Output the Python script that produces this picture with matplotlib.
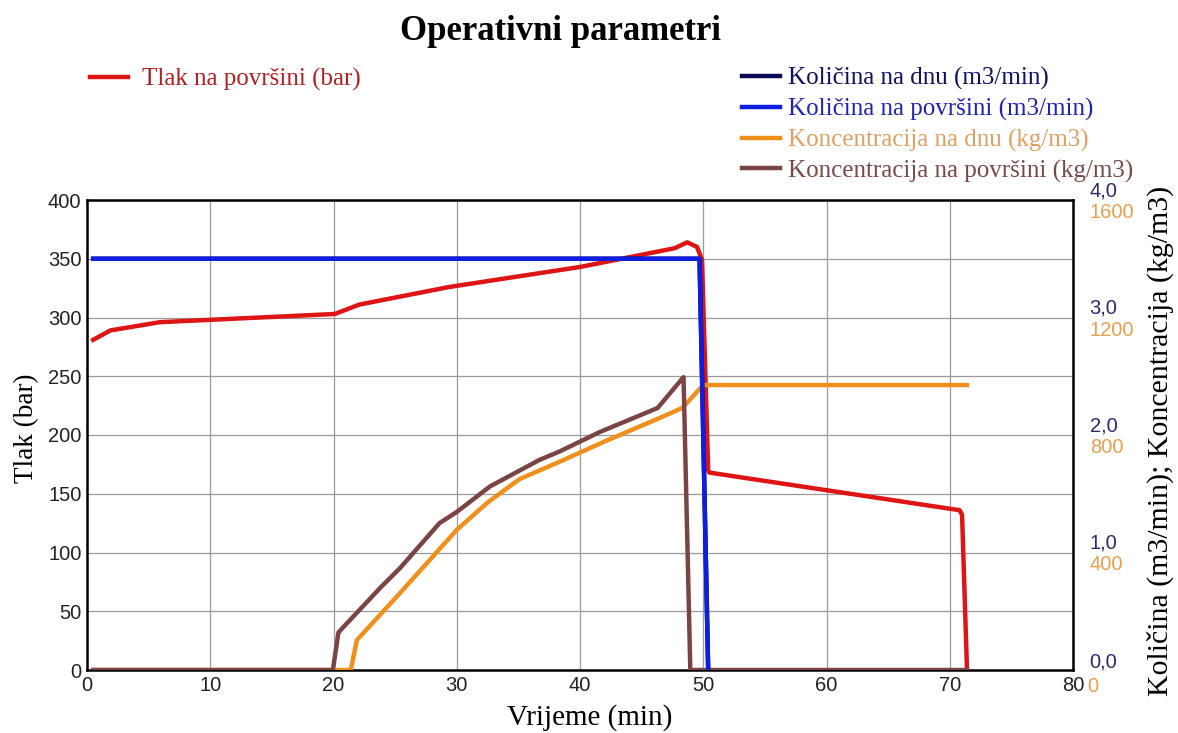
import matplotlib
matplotlib.use("Agg")
import matplotlib.pyplot as plt
import matplotlib.transforms as mtransforms

# Tlak na površini (bar)
t_tlak = [0.5, 1.9, 5.9, 20.1, 22.1, 29.4, 40.0, 47.7, 48.7, 49.5, 49.9, 50.4, 50.5, 70.8, 71.0, 71.4]
tlak = [281, 289, 296, 303, 311, 326, 343, 359, 364, 360, 349, 170, 168, 136, 132, 0]

# Količina (m3/min)
t_kol = [0.5, 49.7, 50.4]
kol_povrsina = [3.5, 3.5, 0.0]
kol_dno = [3.5, 3.5, 0.0]

# Koncentracija (kg/m3)
t_kdno = [0.5, 21.4, 21.9, 25.4, 30.0, 32.5, 35.1, 38.4, 42.0, 46.3, 48.3, 50.0, 71.4]
konc_dno = [0, 0, 102, 262, 477, 570, 650, 710, 778, 855, 892, 970, 970]
t_kpov = [0.5, 19.95, 20.4, 23.8, 25.4, 28.6, 30.0, 32.7, 36.7, 38.4, 41.6, 46.3, 48.4, 48.95, 71.4]
konc_pov = [0, 0, 128, 280, 347, 500, 538, 625, 715, 745, 810, 892, 997, 0, 0]

kol_ticks = [0.0, 1.0, 2.0, 3.0, 4.0]
konc_ticks = [0, 400, 800, 1200, 1600]

serif = "Liberation Serif"
sans = "Liberation Sans"

c_red = "#dd1515"
c_blue = "#0d1ee0"
c_navy = "#0a0a55"
c_orange = "#f0901c"
c_brown = "#7a4444"

fig = plt.figure(figsize=(11.78, 7.33), dpi=100)
ax = fig.add_axes([87 / 1178, 1 - 670 / 733, 986 / 1178, 470 / 733])
ax3 = ax.twinx()
ax2 = ax.twinx()

l_tlak, = ax.plot(t_tlak, tlak, color=c_red, lw=3.2, solid_joinstyle="round")
l_kdno, = ax3.plot(t_kdno, konc_dno, color=c_orange, lw=3.2)
l_kpov, = ax3.plot(t_kpov, konc_pov, color=c_brown, lw=3.2)
l_dno, = ax2.plot(t_kol, kol_dno, color=c_navy, lw=3.2)
l_pov, = ax2.plot(t_kol, kol_povrsina, color=c_blue, lw=3.2)

ax.set_xlim(0, 80)
ax.set_ylim(0, 400)
ax2.set_ylim(0, 4)
ax3.set_ylim(0, 1600)
ax.set_xticks(range(0, 81, 10))
ax.set_yticks(range(0, 401, 50))
ax.grid(True, color="#9a9a9a", lw=0.9)
ax.tick_params(length=0, labelsize=14.5, pad=4, labelcolor="#222222")
for lab in ax.get_xticklabels() + ax.get_yticklabels():
    lab.set_fontfamily(sans)
for a in (ax2, ax3):
    a.set_yticks([])
    for s in a.spines.values():
        s.set_visible(False)
for s in ax.spines.values():
    s.set_linewidth(1.8)
    s.set_color("black")

# right-hand dual tick labels
tr2 = mtransforms.blended_transform_factory(ax.transAxes, ax2.transData)
tr3 = mtransforms.blended_transform_factory(ax.transAxes, ax3.transData)
for v in kol_ticks:
    ax2.annotate(f"{v:.1f}".replace(".", ","), xy=(1.0, v), xycoords=tr2,
                 xytext=(12, 6.5 if v > 0 else 6), textcoords="offset points",
                 ha="left", va="center", fontsize=14.5, color="#2a2a70", family=sans)
for v in konc_ticks:
    ax3.annotate(str(v), xy=(1.0, v), xycoords=tr3,
                 xytext=(12 if v > 0 else 10, -9 if v > 0 else -12),
                 textcoords="offset points", ha="left", va="center",
                 fontsize=14.5, color="#e8a050", family=sans)

fig.text(590 / 1178, 1 - 718 / 733, "Vrijeme (min)", ha="center", va="center",
         family=serif, fontsize=21)
fig.text(27 / 1178, 1 - 428 / 733, "Tlak (bar)", rotation=90, ha="center",
         va="center", family=serif, fontsize=19.5)
fig.text(1160 / 1178, 1 - 441 / 733, "Količina (m3/min); Koncentracija (kg/m3)",
         rotation=90, ha="center", va="center", family=serif, fontsize=21.5)

fig.text(561 / 1178, 1 - 31 / 733, "Operativni parametri", ha="center", va="center",
         family=serif, fontsize=25, fontweight="bold")

leg1 = fig.legend([l_tlak], ["Tlak na površini (bar)"], loc="upper left",
                  bbox_to_anchor=(90 / 1178, 1 - 68 / 733), frameon=False,
                  prop={"family": serif, "size": 18}, handlelength=1.52,
                  handletextpad=0.56, borderpad=0, borderaxespad=0,
                  labelcolor=["#b02020"])
leg2 = fig.legend([l_dno, l_pov, l_kdno, l_kpov],
                  ["Količina na dnu (m3/min)", "Količina na površini (m3/min)",
                   "Koncentracija na dnu (kg/m3)", "Koncentracija na površini (kg/m3)"],
                  loc="upper left", bbox_to_anchor=(742 / 1178, 1 - 67 / 733),
                  frameon=False, prop={"family": serif, "size": 18},
                  handlelength=1.52, handletextpad=0.32, labelspacing=0.31,
                  borderpad=0, borderaxespad=0,
                  labelcolor=["#101060", "#2222b0", "#e0a060", "#7a4848"])

fig.savefig("out.png", dpi=100)
